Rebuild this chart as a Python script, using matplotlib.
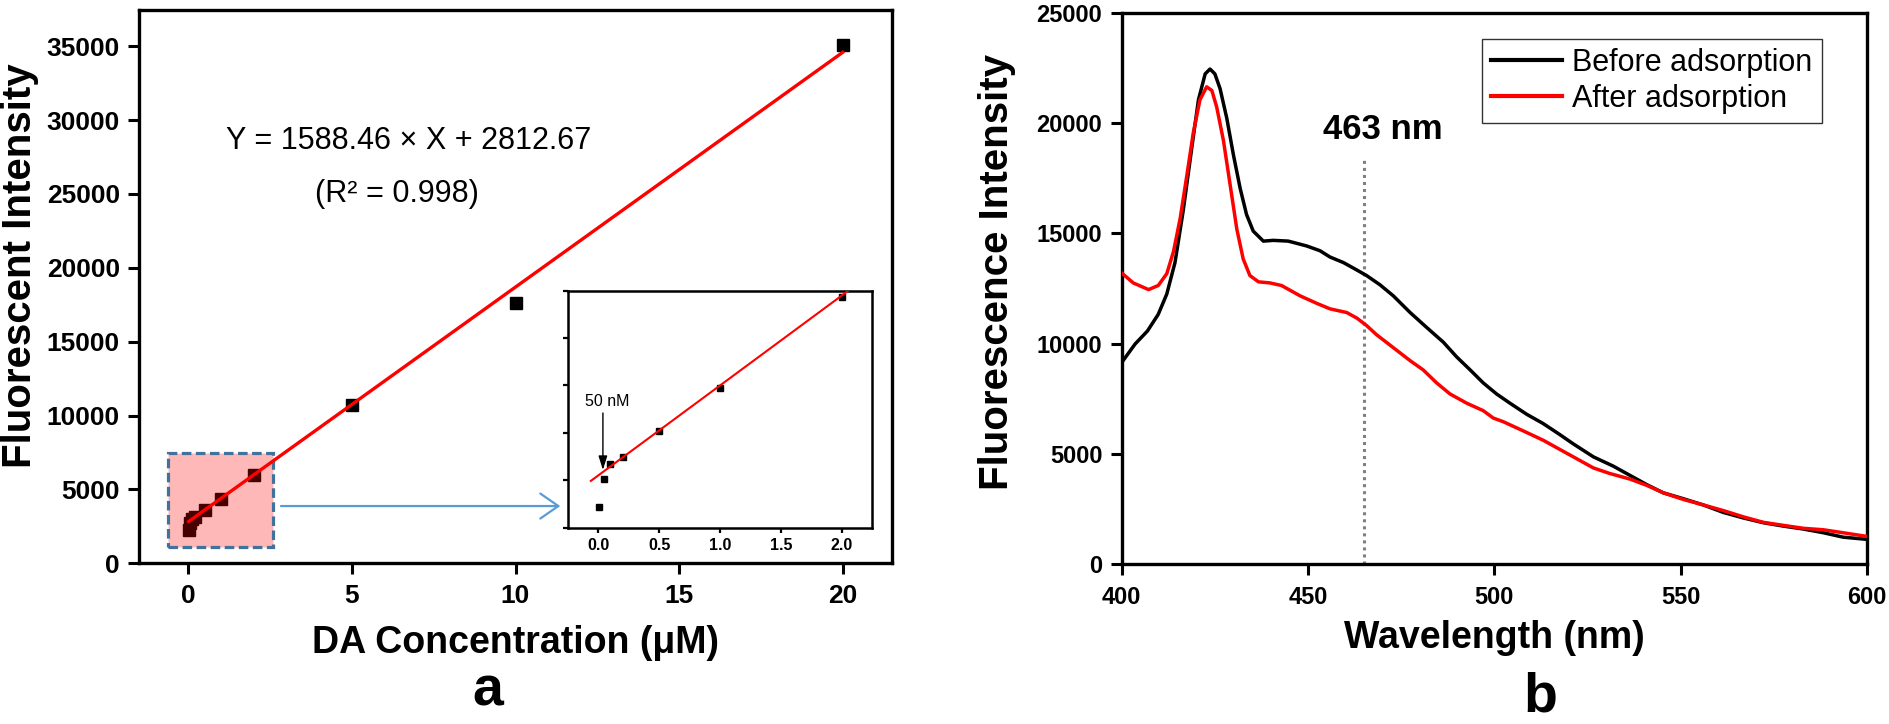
import numpy as np
import matplotlib
matplotlib.use('Agg')
import matplotlib.pyplot as plt
from matplotlib.patches import Rectangle

plt.rcParams['font.family'] = ['Liberation Sans', 'DejaVu Sans']

# ---------------- Panel a data ----------------
conc = [0.01, 0.05, 0.1, 0.2, 0.5, 1, 2, 5, 10, 20]
intensity = [2250, 2750, 3010, 3145, 3605, 4355, 5965, 10700, 17650, 35080]
slope = 1588.46
intercept = 2812.67
inset_fit_range = [-0.06, 2.06]
zoom_box_x = [-0.63, 2.58]
zoom_box_y = [1120, 7480]
main_xticks = [0, 5, 10, 15, 20]
main_yticks = [0, 5000, 10000, 15000, 20000, 25000, 30000, 35000]
inset_xticks = [0.0, 0.5, 1.0, 1.5, 2.0]

# ---------------- Panel b data ----------------
wl_before = [400, 403.6, 406.9, 409.8, 412.1, 414.3, 416.5, 418.8, 420.6, 422.4, 423.7, 425.0,
             426.4, 428.2, 430.0, 431.8, 433.5, 435.3, 438.0, 440.7, 444.7, 449.6, 453.2, 455.9,
             459.5, 462.2, 465.7, 469.3, 472.9, 477.4, 481.8, 486.3, 489.9, 493.5, 497.0, 500.6,
             504.2, 508.7, 513.1, 517.6, 521.2, 526.6, 531.9, 536.4, 540.9, 545.3, 550.7, 556.1,
             561.4, 566.8, 572.2, 577.5, 582.9, 588.3, 593.6, 600]
int_before = [9142, 9982, 10570, 11325, 12249, 13676, 16026, 18880, 21063, 22239, 22457, 22239,
              21567, 20224, 18545, 17034, 15858, 15103, 14650, 14684, 14650, 14432, 14214, 13928,
              13676, 13424, 13089, 12669, 12165, 11409, 10738, 10066, 9394, 8807, 8219, 7715,
              7295, 6791, 6372, 5868, 5448, 4860, 4441, 4021, 3601, 3232, 2963, 2678,
              2342, 2090, 1872, 1721, 1587, 1418, 1217, 1117]
wl_after = [400, 403.1, 407.2, 409.8, 412.1, 413.9, 415.7, 417.4, 419.2, 421.0, 422.8, 424.2,
            425.5, 427.3, 429.1, 430.9, 432.6, 434.4, 436.7, 439.8, 442.9, 447.9, 452.3, 455.9,
            460.4, 463.1, 465.7, 468.4, 472.9, 477.4, 480.9, 484.5, 488.1, 492.6, 497.0, 499.7,
            502.4, 507.8, 513.1, 517.6, 522.1, 526.6, 531.0, 536.4, 540.9, 545.3, 550.7, 556.1,
            561.4, 566.8, 572.2, 577.5, 582.9, 588.3, 593.6, 600]
int_after = [13206, 12753, 12451, 12635, 13173, 14180, 15691, 17538, 19553, 21063, 21651, 21483,
             20727, 19216, 17202, 15187, 13843, 13088, 12802, 12753, 12635, 12165, 11829, 11577,
             11409, 11157, 10821, 10402, 9814, 9226, 8807, 8219, 7715, 7295, 6959, 6623,
             6455, 6036, 5616, 5196, 4777, 4357, 4105, 3853, 3568, 3232, 2930, 2678,
             2426, 2141, 1889, 1755, 1620, 1553, 1418, 1251]
series_labels = ['Before adsorption', 'After adsorption']
peak_line_wl = 465
peak_line_top = 18470
b_xticks = [400, 450, 500, 550, 600]
b_yticks = [0, 5000, 10000, 15000, 20000, 25000]

W, H = 1890, 724
fig = plt.figure(figsize=(W / 100, H / 100), dpi=100)

def fx(px):
    return px / W

def fy(py):
    return 1 - py / H

# ================= Panel a =================
ax = fig.add_axes([fx(139.3), fy(563.3), fx(891.7 - 139.3), (563.3 - 10) / H])
ax.plot(conc, intensity, 's', color='black', ms=8.5, zorder=3)
xf = np.array([min(conc), max(conc)])
ax.plot(xf, slope * xf + intercept, color='red', lw=2.4, zorder=5)
ax.add_patch(Rectangle((zoom_box_x[0], zoom_box_y[0]), zoom_box_x[1] - zoom_box_x[0],
                       zoom_box_y[1] - zoom_box_y[0], facecolor=(1, 0, 0, 0.28),
                       edgecolor='#41719C', lw=2.3, linestyle=(0, (3, 1.4)), zorder=4))
ax.annotate('', xy=(11.37, 3875), xytext=(2.83, 3875),
            arrowprops=dict(arrowstyle='->,head_length=0.65,head_width=0.45',
                            color='#5B9BD5', lw=1.6, shrinkA=0, shrinkB=0,
                            mutation_scale=20))
ax.set_xlim(-1.5, 21.5)
ax.set_ylim(0, 37450)
ax.set_xticks(main_xticks)
ax.set_yticks(main_yticks)
ax.set_xticklabels([str(v) for v in main_xticks])
ax.set_yticklabels([str(v) for v in main_yticks])
for s in ax.spines.values():
    s.set_linewidth(2.4)
ax.tick_params(direction='out', length=8, width=2.2, labelsize=19)
ax.tick_params(axis='x', pad=7)
ax.tick_params(axis='y', pad=6)
for lab in ax.get_xticklabels() + ax.get_yticklabels():
    lab.set_fontweight('bold')
ax.text(6.72, 28060, 'Y = 1588.46 \u00d7 X + 2812.67', ha='center', va='baseline', fontsize=22)
ax.text(6.37, 24450, '(R\u00b2 = 0.998)', ha='center', va='baseline', fontsize=22)

fig.text(fx(31), fy(266), 'Fluorescent Intensity', rotation=90, rotation_mode='anchor',
         ha='center', va='baseline', fontsize=29, fontweight='bold')
fig.text(fx(515), fy(652.7), 'DA Concentration (\u03bcM)', ha='center', va='baseline',
         fontsize=27, fontweight='bold')
fig.text(fx(488), fy(706), 'a', ha='center', va='baseline', fontsize=40, fontweight='bold')

# inset
ins = fig.add_axes([fx(567.7), fy(527.5), fx(872.3 - 567.7), (527.5 - 290.7) / H])
ins.plot(conc[:7], intensity[:7], 's', color='black', ms=5, zorder=3)
xi = np.array(inset_fit_range)
ins.plot(xi, slope * xi + intercept, color='red', lw=1.5, zorder=4)
ins_ylo, ins_yhi = 1895, 6074
ins.set_xlim(-0.25, 2.25)
ins.set_ylim(ins_ylo, ins_yhi)
ins.set_xticks(inset_xticks)
ins.set_xticklabels(['%.1f' % v for v in inset_xticks])
ins.set_yticks(np.linspace(ins_ylo, ins_yhi, 6))
ins.set_yticklabels([])
for s in ins.spines.values():
    s.set_linewidth(1.8)
ins.tick_params(direction='out', length=3.5, width=1.6, labelsize=11.5, pad=4)
for lab in ins.get_xticklabels():
    lab.set_fontweight('bold')
ins.text(0.078, 4039, '50 nM', ha='center', va='baseline', fontsize=11.5)
ins.annotate('', xy=(0.039, 2910), xytext=(0.039, 3916),
             arrowprops=dict(arrowstyle='-|>,head_length=0.7,head_width=0.22',
                             color='black', lw=1.0, shrinkA=0, shrinkB=0, mutation_scale=12))

# ================= Panel b =================
bx = fig.add_axes([fx(1121.7), fy(564), fx(1867 - 1121.7), (564 - 13) / H])
bx.plot(wl_before, int_before, color='black', lw=2.5, label=series_labels[0], zorder=3)
bx.plot(wl_after, int_after, color='red', lw=2.5, label=series_labels[1], zorder=4)
bx.vlines(peak_line_wl, 0, peak_line_top, colors='#808080', linestyles=(0, (1, 1.3)), lw=2.2,
          zorder=2)
bx.text(470, 19300, '463 nm', ha='center', va='baseline', fontsize=25, fontweight='bold')
bx.set_xlim(400, 600)
bx.set_ylim(0, 25000)
bx.set_xticks(b_xticks)
bx.set_yticks(b_yticks)
bx.set_xticklabels([str(v) for v in b_xticks])
bx.set_yticklabels([str(v) for v in b_yticks])
for s in bx.spines.values():
    s.set_linewidth(2.4)
bx.tick_params(direction='out', length=8, width=2.2, labelsize=17)
bx.tick_params(axis='x', pad=8)
bx.tick_params(axis='y', pad=6)
for lab in bx.get_xticklabels() + bx.get_yticklabels():
    lab.set_fontweight('bold')
leg = bx.legend(loc='upper left', bbox_to_anchor=(0.4838, 0.953), borderaxespad=0,
                fontsize=22, frameon=True, fancybox=False, edgecolor='black',
                handlelength=2.3, handletextpad=0.35, labelspacing=0.2, borderpad=0.3)
leg.get_frame().set_linewidth(1.0)
for ln in leg.get_lines():
    ln.set_linewidth(3.0)

fig.text(fx(1008), fy(272), 'Fluorescence Intensity', rotation=90, rotation_mode='anchor',
         ha='center', va='baseline', fontsize=29, fontweight='bold')
fig.text(fx(1494), fy(648.3), 'Wavelength (nm)', ha='center', va='baseline',
         fontsize=27, fontweight='bold')
fig.text(fx(1540), fy(712), 'b', ha='center', va='baseline', fontsize=40, fontweight='bold')

fig.savefig('out.png', dpi=100)
